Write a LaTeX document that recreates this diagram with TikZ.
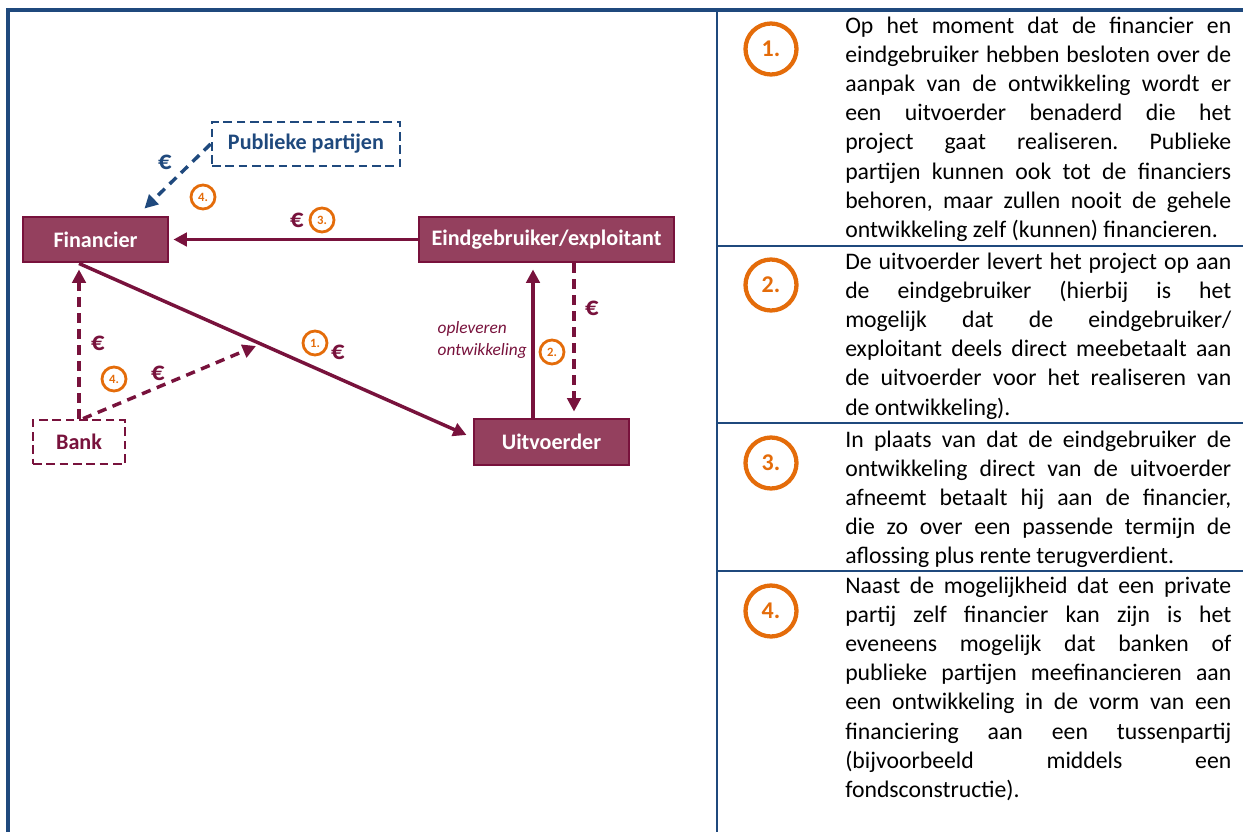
\documentclass[tikz,border=0pt]{standalone}
\usepackage{fontspec}
\setmainfont{Carlito}
\usepackage{tikz}
\usetikzlibrary{arrows.meta, positioning, calc}
\usepackage{xcolor}

\definecolor{wine}{RGB}{120,18,60}
\definecolor{winefill}{RGB}{148,64,94}
\definecolor{navy}{RGB}{31,73,125}
\definecolor{accent}{RGB}{228,108,10}

\newcommand{\pxu}{0.75pt}
\hbadness=10000
\frenchspacing

\begin{document}
\begin{tikzpicture}[
    x=0.75pt, y=-0.75pt,
    party/.style={
        draw=wine,
        fill=winefill,
        rectangle,
        line width=2.2pt,
        inner sep=0pt,
        text=white,
        font=\fontsize{16.6}{18}\selectfont\bfseries
    },
    other/.style={
        draw=wine,
        rectangle,
        dash pattern=on 6.5pt off 3.5pt,
        line width=2pt,
        inner sep=0pt,
        text=wine,
        font=\fontsize{16.6}{18}\selectfont\bfseries
    },
    flow/.style={
        -{Triangle[length=10pt,width=10pt]},
        line width=2.6pt,
        draw=wine
    },
    money/.style={
        flow,
        dash pattern=on 7pt off 5pt
    },
    euro/.style={
        font=\fontsize{20}{21}\selectfont\bfseries,
        text=wine,
        inner sep=0pt
    },
    num/.style={
        circle,
        draw=accent,
        line width=2.1pt,
        minimum size=24*\pxu,
        inner sep=0pt,
        text=accent,
        font=\fontsize{9.5}{10}\selectfont\bfseries
    },
    bignum/.style={
        circle,
        draw=accent,
        line width=3.2pt,
        minimum size=51*\pxu,
        inner sep=0pt,
        text=accent,
        font=\fontsize{18}{19}\selectfont\bfseries
    },
    lbl/.style={
        font=\fontsize{13}{16.5}\selectfont\itshape,
        text=wine,
        inner sep=0pt
    },
    expl/.style={
        anchor=base west,
        text width=386*\pxu,
        align=justify,
        inner sep=0pt,
        font=\fontsize{17.8}{21.9}\selectfont
    },
    rule/.style={
        draw=navy,
        line width=1.5pt
    }
]
\useasboundingbox (0,0) rectangle (1243,832);

% ============================================================
% Frame and table rules
% ============================================================

\draw[rule, line width=3pt] (6,9.5) -- (1243,9.5);
\draw[rule, line width=3pt] (8,8) -- (8,832);
\draw[rule, line width=1.9pt] (717,9.5) -- (717,832);
\foreach \y in {246,423,571}
    \draw[rule] (717,\y) -- (1243,\y);

% ============================================================
% Left: parties and money flows
% ============================================================

\node[party, minimum width=145*\pxu, minimum height=45*\pxu] (fin)  at (95.5,239.5) {Financier};
\node[party, minimum width=255*\pxu, minimum height=45*\pxu] (eind) at (546.5,239.5) {Eindgebruiker/exploitant};
\node[party, minimum width=155*\pxu, minimum height=46*\pxu] (uitv) at (551.5,442) {Uitvoerder};
\node[other, draw=navy, text=navy, minimum width=188*\pxu, minimum height=44*\pxu] (publ) at (306,144) {Publieke partijen};
\node[other, minimum width=92*\pxu, minimum height=44*\pxu] (bank) at (79,442) {Bank};

\coordinate (hit) at (256,346);

\draw[flow] (eind.west) -- ($(fin.east)+(4,0)$);
\draw[flow] (fin.south -| bank.north) -- ($(uitv.west)+(-6,-7)$);
\draw[flow] ($(uitv.north)+(-18.5,0)$) -- ($(uitv.north |- eind.south)+(-18.5,6)$);
\draw[money] ($(eind.south)+(27.5,0)$) -- ($(eind.south |- uitv.north)+(27.5,-6)$);
\draw[money] (bank.north) -- ($(bank.north |- fin.south)+(0,6)$);
\draw[money] ($(bank.north)+(4,0)$) -- (hit);
\draw[money, draw=navy] (publ.west) -- ($(fin.north east)+(-25,-7)$);

\node[euro] (e3)  at (297,220) {€};
\node[num]  (n3)  at (322,220) {3.};
\node[euro, text=navy] (e4p) at (165,162) {€};
\node[num]  (n4p) at (203,197) {4.};
\node[euro] (e2)  at (592,308) {€};
\node[num]  (n2)  at (552,352) {2.};
\node[euro] (e4b) at (98,343) {€};
\node[num]  (n4b) at (114,379) {4.};
\node[euro] (e4c) at (158,373) {€};
\node[num]  (n1)  at (315,343) {1.};
\node[euro] (e1)  at (338,352) {€};

\node[lbl, align=left, anchor=east] (opl) at (527,340) {opleveren\\ontwikkeling};

% ============================================================
% Right: numbered explanation
% ============================================================

\foreach \i/\y in {1/49,2/285,3/463,4/611}
    \node[bignum] (k\i) at (771,\y) {\i.};

\node[expl] (t1) at (845,33) {Op het moment dat de financier en\linebreak
eindgebruiker hebben besloten over de\linebreak
aanpak van de ontwikkeling wordt er\linebreak
een uitvoerder benaderd die het\linebreak
project gaat realiseren. Publieke\linebreak
partijen kunnen ook tot de financiers\linebreak
behoren, maar zullen nooit de gehele\linebreak
ontwikkeling zelf (kunnen) financieren.};

\node[expl] (t2) at (845,269) {De uitvoerder levert het project op aan\linebreak
de eindgebruiker (hierbij is het\linebreak
mogelijk dat de eindgebruiker/\linebreak
exploitant deels direct meebetaalt aan\linebreak
de uitvoerder voor het realiseren van\linebreak
de ontwikkeling).};

\node[expl] (t3) at (845,447) {In plaats van dat de eindgebruiker de\linebreak
ontwikkeling direct van de uitvoerder\linebreak
afneemt betaalt hij aan de financier,\linebreak
die zo over een passende termijn de\linebreak
aflossing plus rente terugverdient.};

\node[expl] (t4) at (845,593) {Naast de mogelijkheid dat een private\linebreak
partij zelf financier kan zijn is het\linebreak
eveneens mogelijk dat banken of\linebreak
publieke partijen meefinancieren aan\linebreak
een ontwikkeling in de vorm van een\linebreak
financiering aan een tussenpartij\linebreak
(bijvoorbeeld middels een\linebreak
fondsconstructie).};
\end{tikzpicture}
\end{document}
